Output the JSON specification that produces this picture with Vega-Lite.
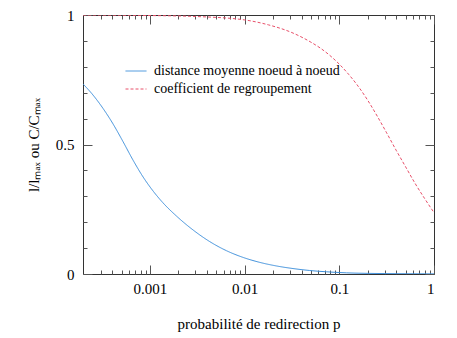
{
  "$schema": "https://vega.github.io/schema/vega-lite/v6.json",
  "autosize": {"type": "none"},
  "padding": {"left": 83, "top": 15, "right": 23, "bottom": 64},
  "width": 351,
  "height": 259,
  "config": {
    "font": "Liberation Serif",
    "view": {"stroke": "#333333", "strokeWidth": 1},
    "axis": {"domain": false, "grid": false, "tickColor": "#555555", "tickWidth": 1, "labelColor": "#000000", "titleColor": "#000000", "labelFont": "Liberation Serif", "titleFont": "Liberation Serif", "titleFontWeight": "normal"}
  },
  "data": {
    "values": [
      {"p": 0.000196, "v": 0.734, "s": "distance moyenne noeud à noeud"},
      {"p": 0.00025, "v": 0.691, "s": "distance moyenne noeud à noeud"},
      {"p": 0.000318, "v": 0.640, "s": "distance moyenne noeud à noeud"},
      {"p": 0.000406, "v": 0.580, "s": "distance moyenne noeud à noeud"},
      {"p": 0.000519, "v": 0.511, "s": "distance moyenne noeud à noeud"},
      {"p": 0.000661, "v": 0.440, "s": "distance moyenne noeud à noeud"},
      {"p": 0.000844, "v": 0.375, "s": "distance moyenne noeud à noeud"},
      {"p": 0.00108, "v": 0.320, "s": "distance moyenne noeud à noeud"},
      {"p": 0.00137, "v": 0.275, "s": "distance moyenne noeud à noeud"},
      {"p": 0.0019, "v": 0.224, "s": "distance moyenne noeud à noeud"},
      {"p": 0.00285, "v": 0.170, "s": "distance moyenne noeud à noeud"},
      {"p": 0.00428, "v": 0.125, "s": "distance moyenne noeud à noeud"},
      {"p": 0.00642, "v": 0.090, "s": "distance moyenne noeud à noeud"},
      {"p": 0.00963, "v": 0.064, "s": "distance moyenne noeud à noeud"},
      {"p": 0.0144, "v": 0.045, "s": "distance moyenne noeud à noeud"},
      {"p": 0.0217, "v": 0.031, "s": "distance moyenne noeud à noeud"},
      {"p": 0.0325, "v": 0.021, "s": "distance moyenne noeud à noeud"},
      {"p": 0.0487, "v": 0.0135, "s": "distance moyenne noeud à noeud"},
      {"p": 0.0733, "v": 0.0085, "s": "distance moyenne noeud à noeud"},
      {"p": 0.119, "v": 0.0045, "s": "distance moyenne noeud à noeud"},
      {"p": 0.25, "v": 0.002, "s": "distance moyenne noeud à noeud"},
      {"p": 1, "v": 0.0005, "s": "distance moyenne noeud à noeud"},
      {"p": 0.000196, "v": 1.0, "s": "coefficient de regroupement"},
      {"p": 0.001, "v": 0.998, "s": "coefficient de regroupement"},
      {"p": 0.00316, "v": 0.994, "s": "coefficient de regroupement"},
      {"p": 0.01, "v": 0.981, "s": "coefficient de regroupement"},
      {"p": 0.0178, "v": 0.962, "s": "coefficient de regroupement"},
      {"p": 0.0316, "v": 0.932, "s": "coefficient de regroupement"},
      {"p": 0.0501, "v": 0.895, "s": "coefficient de regroupement"},
      {"p": 0.0631, "v": 0.872, "s": "coefficient de regroupement"},
      {"p": 0.1, "v": 0.81, "s": "coefficient de regroupement"},
      {"p": 0.126, "v": 0.77, "s": "coefficient de regroupement"},
      {"p": 0.158, "v": 0.725, "s": "coefficient de regroupement"},
      {"p": 0.2, "v": 0.67, "s": "coefficient de regroupement"},
      {"p": 0.251, "v": 0.61, "s": "coefficient de regroupement"},
      {"p": 0.316, "v": 0.545, "s": "coefficient de regroupement"},
      {"p": 0.398, "v": 0.478, "s": "coefficient de regroupement"},
      {"p": 0.501, "v": 0.414, "s": "coefficient de regroupement"},
      {"p": 0.631, "v": 0.35, "s": "coefficient de regroupement"},
      {"p": 0.794, "v": 0.292, "s": "coefficient de regroupement"},
      {"p": 1, "v": 0.237, "s": "coefficient de regroupement"}
    ]
  },
  "resolve": {"axis": {"x": "independent", "y": "independent"}},
  "layer": [
    {
      "mark": {"type": "line", "interpolate": "monotone", "strokeWidth": 1, "clip": true},
      "encoding": {
        "x": {"field": "p", "type": "quantitative",
          "scale": {"type": "log", "domain": [0.000196, 1], "nice": false},
          "axis": {"orient": "bottom", "values": [0.001, 0.01, 0.1, 1], "format": "~g", "tickSize": -9, "labelPadding": 16, "labelFontSize": 15, "title": "probabilité de redirection  p", "titleFontSize": 15, "titlePadding": 20}},
        "y": {"field": "v", "type": "quantitative",
          "scale": {"domain": [0, 1], "nice": false, "zero": false},
          "axis": {"orient": "left", "values": [0, 0.5, 1], "format": "~g", "tickSize": -9, "labelPadding": 18, "labelFontSize": 15, "title": "l/lₘₐₓ ou C/Cₘₐₓ", "titleFontSize": 15, "titlePadding": 14}},
        "color": {"field": "s", "type": "nominal",
          "scale": {"domain": ["distance moyenne noeud à noeud", "coefficient de regroupement"], "range": ["#3d8fdb", "#e8506a"]},
          "legend": {"orient": "none", "legendX": 42, "legendY": 45, "title": null, "symbolType": "stroke", "symbolSize": 440, "symbolStrokeWidth": 1, "labelFontSize": 14, "labelFont": "Liberation Serif", "labelColor": "#000000", "labelOffset": 7, "labelLimit": 400, "rowPadding": -2, "padding": 0}},
        "strokeDash": {"field": "s", "type": "nominal",
          "scale": {"domain": ["distance moyenne noeud à noeud", "coefficient de regroupement"], "range": [[1, 0], [3, 2]]},
          "legend": {"orient": "none", "legendX": 42, "legendY": 45, "title": null, "symbolType": "stroke", "symbolSize": 440, "symbolStrokeWidth": 1, "labelFontSize": 14, "labelFont": "Liberation Serif", "labelColor": "#000000", "labelOffset": 7, "labelLimit": 400, "rowPadding": -2, "padding": 0}}
      }
    },
    {
      "mark": {"type": "line", "opacity": 0},
      "encoding": {
        "x": {"field": "p", "type": "quantitative", "scale": {"type": "log", "domain": [0.000196, 1], "nice": false},
          "axis": {"orient": "bottom", "values": [0.0003, 0.0004, 0.0005, 0.0006, 0.0007, 0.0008, 0.0009, 0.002, 0.003, 0.004, 0.005, 0.006, 0.007, 0.008, 0.009, 0.02, 0.03, 0.04, 0.05, 0.06, 0.07, 0.08, 0.09, 0.2, 0.3, 0.4, 0.5, 0.6, 0.7, 0.8, 0.9], "labels": false, "tickSize": -4, "title": null}},
        "y": {"field": "v", "type": "quantitative", "scale": {"domain": [0, 1], "nice": false, "zero": false},
          "axis": {"orient": "left", "values": [0.1, 0.2, 0.3, 0.4, 0.6, 0.7, 0.8, 0.9], "labels": false, "tickSize": -4, "title": null}},
        "detail": {"field": "s", "type": "nominal"}
      }
    },
    {
      "mark": {"type": "line", "opacity": 0},
      "encoding": {
        "x": {"field": "p", "type": "quantitative", "scale": {"type": "log", "domain": [0.000196, 1], "nice": false},
          "axis": {"orient": "top", "values": [0.001, 0.01, 0.1, 1], "labels": false, "tickSize": -9, "title": null}},
        "y": {"field": "v", "type": "quantitative", "scale": {"domain": [0, 1], "nice": false, "zero": false},
          "axis": {"orient": "right", "values": [0, 0.5, 1], "labels": false, "tickSize": -9, "title": null}},
        "detail": {"field": "s", "type": "nominal"}
      }
    },
    {
      "mark": {"type": "line", "opacity": 0},
      "encoding": {
        "x": {"field": "p", "type": "quantitative", "scale": {"type": "log", "domain": [0.000196, 1], "nice": false},
          "axis": {"orient": "top", "values": [0.0003, 0.0004, 0.0005, 0.0006, 0.0007, 0.0008, 0.0009, 0.002, 0.003, 0.004, 0.005, 0.006, 0.007, 0.008, 0.009, 0.02, 0.03, 0.04, 0.05, 0.06, 0.07, 0.08, 0.09, 0.2, 0.3, 0.4, 0.5, 0.6, 0.7, 0.8, 0.9], "labels": false, "tickSize": -4, "title": null}},
        "y": {"field": "v", "type": "quantitative", "scale": {"domain": [0, 1], "nice": false, "zero": false},
          "axis": {"orient": "right", "values": [0.1, 0.2, 0.3, 0.4, 0.6, 0.7, 0.8, 0.9], "labels": false, "tickSize": -4, "title": null}},
        "detail": {"field": "s", "type": "nominal"}
      }
    }
  ]
}
